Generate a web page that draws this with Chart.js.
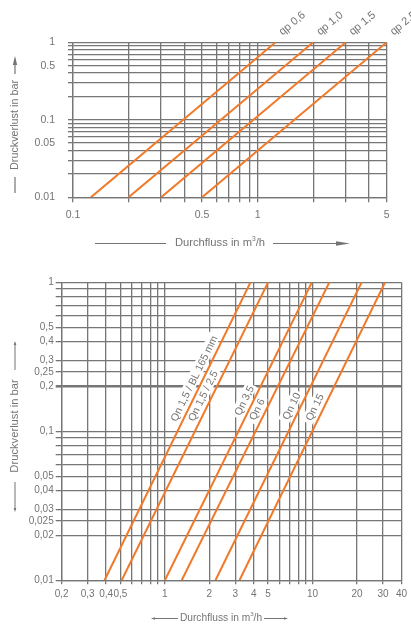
<!DOCTYPE html>
<html>
<head>
<meta charset="utf-8">
<script src="https://cdn.jsdelivr.net/npm/chart.js@4.4.1/dist/chart.umd.min.js"></script>
<style>
  html, body { margin: 0; padding: 0; background: #fff; }
  #wrap { position: relative; width: 411px; height: 624px; overflow: hidden; }
  canvas { position: absolute; left: 0; }
  #top { top: 0; }
  #bottom { top: 260px; }
</style>
</head>
<body>
<div id="wrap">
  <canvas id="top" width="411" height="260"></canvas>
  <canvas id="bottom" width="411" height="364"></canvas>
</div>
<script>
'use strict';

// upper diagram: qp meters
const topSeries = ['qp 0,6', 'qp 1,0', 'qp 1,5', 'qp 2,5'];
const topFlowLow = [0.125, 0.2, 0.3, 0.5];   // m3/h at 0.01 bar
const topFlowHigh = [1.25, 2.0, 3.0, 5.0];   // m3/h at 1 bar
const topPressure = [0.01, 1];
const topXTicks = [0.1, 0.5, 1, 5];
const topXLabels = ['0.1', '0.5', '1', '5'];
const topYTicks = [0.01, 0.05, 0.1, 0.5, 1];
const topYLabels = ['0.01', '0.05', '0.1', '0.5', '1'];

// lower diagram: Qn meters
const bottomSeries = ['Qn 1,5 / BL 165 mm', 'Qn 1,5 / 2,5', 'Qn 3,5', 'Qn 6', 'Qn 10', 'Qn 15'];
const bottomFlowLow = [0.39, 0.51, 1.0, 1.3, 2.2, 3.2];   // m3/h at 0.01 bar
const bottomFlowHigh = [3.8, 5.0, 9.9, 13, 21.5, 31];     // m3/h at 1 bar
const bottomPressure = [0.01, 1];
const bottomXTicks = [0.2, 0.3, 0.4, 0.5, 1, 2, 3, 4, 5, 10, 20, 30, 40];
const bottomXLabels = ['0,2', '0,3', '0,4', '0,5', '1', '2', '3', '4', '5', '10', '20', '30', '40'];
const bottomYTicks = [0.01, 0.02, 0.025, 0.03, 0.04, 0.05, 0.1, 0.2, 0.25, 0.3, 0.4, 0.5, 1];
const bottomYLabels = ['0,01', '0,02', '0,025', '0,03', '0,04', '0,05', '0,1', '0,2', '0,25', '0,3', '0,4', '0,5', '1'];

const ORANGE = '#f07a2a';
const GRID = '#767676';
const TEXT = '#747474';
const FONT = '"Liberation Sans", Arial, sans-serif';

const same = (a, b) => Math.abs(a - b) <= Math.abs(b) * 1e-6;

// 1..9 steps of every decade between min and max, plus the labelled ticks
function gridValues(min, max, ticks) {
    const out = [];
    for (let p = Math.floor(Math.log10(min)); p <= Math.ceil(Math.log10(max)); p++) {
        for (let m = 1; m < 10; m++) {
            const v = +(m * Math.pow(10, p)).toPrecision(6);
            if (v >= min - 1e-12 && v <= max + 1e-12) out.push(v);
        }
    }
    ticks.forEach(t => { if (!out.some(v => same(v, t))) out.push(t); });
    return out.sort((a, b) => a - b);
}

function logAxis(min, max, ticks, labels, o) {
    const grid = gridValues(min, max, ticks);
    return {
        type: 'logarithmic',
        min: min,
        max: max,
        afterBuildTicks: (axis) => { axis.ticks = grid.map(v => ({ value: v })); },
        afterFit: o.fit,
        ticks: {
            autoSkip: false,
            maxRotation: 0,
            minRotation: 0,
            padding: o.padding,
            color: TEXT,
            font: { family: FONT, size: o.fontSize },
            callback: (v) => {
                const i = ticks.findIndex(t => same(v, t));
                return i < 0 ? '' : labels[i];
            }
        },
        grid: {
            color: GRID,
            lineWidth: o.lineWidth || 1.3,
            tickLength: o.tickLength,
            tickColor: GRID
        },
        border: { display: true, color: GRID, width: 1.3 }
    };
}

function lineSets(names, low, high, pressure) {
    return names.map((n, i) => ({
        label: n,
        data: [{ x: low[i], y: pressure[0] }, { x: high[i], y: pressure[1] }],
        borderColor: ORANGE,
        borderWidth: 2,
        pointRadius: 0,
        showLine: true,
        fill: false
    }));
}

function flowTitle(ctx, cx, cy, size) {
    const a = 'Durchfluss in m', b = '3', c = '/h';
    ctx.font = size + 'px ' + FONT;
    const wa = ctx.measureText(a).width, wc = ctx.measureText(c).width;
    ctx.font = (size * 0.6) + 'px ' + FONT;
    const wb = ctx.measureText(b).width;
    let x = cx - (wa + wb + wc) / 2;
    ctx.textBaseline = 'middle';
    ctx.textAlign = 'left';
    ctx.font = size + 'px ' + FONT;
    ctx.fillText(a, x, cy);
    ctx.font = (size * 0.6) + 'px ' + FONT;
    ctx.fillText(b, x + wa, cy - size * 0.35);
    ctx.font = size + 'px ' + FONT;
    ctx.fillText(c, x + wa + wb, cy);
}

function seg(ctx, x1, y1, x2, y2) {
    ctx.beginPath();
    ctx.moveTo(x1, y1);
    ctx.lineTo(x2, y2);
    ctx.stroke();
}

function head(ctx, tx, ty, dx, dy, len, half) {
    // arrow tip at (tx,ty), pointing in direction (dx,dy)
    const bx = tx - dx * len, by = ty - dy * len;
    ctx.beginPath();
    ctx.moveTo(tx, ty);
    ctx.lineTo(bx - dy * half, by + dx * half);
    ctx.lineTo(bx + dy * half, by - dx * half);
    ctx.closePath();
    ctx.fill();
}

const topTitles = {
    id: 'topTitles',
    afterDraw(chart) {
        const ctx = chart.ctx;
        ctx.save();
        ctx.strokeStyle = TEXT;
        ctx.fillStyle = TEXT;
        ctx.lineWidth = 1.2;
        // x title
        seg(ctx, 95, 243.5, 166, 243.5);
        flowTitle(ctx, 220, 243, 11.2);
        seg(ctx, 273, 243.5, 338, 243.5);
        head(ctx, 350, 243.5, 1, 0, 14, 2.2);
        // y title
        head(ctx, 15, 56, 0, -1, 9, 2.2);
        seg(ctx, 15, 64, 15, 74);
        seg(ctx, 15, 177, 15, 193);
        ctx.translate(15, 125);
        ctx.rotate(-Math.PI / 2);
        ctx.font = '10.8px ' + FONT;
        ctx.textAlign = 'center';
        ctx.textBaseline = 'middle';
        ctx.fillText('Druckverlust in bar', 0, 0);
        ctx.restore();
    },
    afterDatasetsDraw(chart) {
        const ctx = chart.ctx;
        ctx.save();
        ctx.fillStyle = TEXT;
        ctx.font = '11px ' + FONT;
        ctx.textAlign = 'left';
        ctx.textBaseline = 'middle';
        chart.data.datasets.forEach((ds, i) => {
            const pts = chart.getDatasetMeta(i).data;
            const p0 = pts[0], p1 = pts[1];
            const ang = Math.atan2(p1.y - p0.y, p1.x - p0.x);
            ctx.save();
            ctx.translate(p1.x + 5, p1.y - 9);
            ctx.rotate(ang);
            ctx.fillText(ds.label, 0, 0);
            ctx.restore();
        });
        ctx.restore();
    }
};

// pressure at which each curve label ends (label sits left of its line)
const bottomLabelEnd = [0.41, 0.239, 0.189, 0.155, 0.17, 0.167];

function bottomLabelFrames(chart, cb) {
    const ys = chart.scales.y;
    chart.data.datasets.forEach((ds, i) => {
        const pts = chart.getDatasetMeta(i).data;
        const p0 = pts[0], p1 = pts[1];
        const py = ys.getPixelForValue(bottomLabelEnd[i]);
        const t = (py - p0.y) / (p1.y - p0.y);
        const px = p0.x + t * (p1.x - p0.x);
        const ang = Math.atan2(p1.y - p0.y, p1.x - p0.x);
        cb(ds.label, px, py, ang);
    });
}

const LABEL_FONT = '10.5px ' + FONT;

const bottomTitles = {
    id: 'bottomTitles',
    beforeDatasetsDraw(chart) {
        const ctx = chart.ctx;
        ctx.save();
        ctx.font = LABEL_FONT;
        ctx.fillStyle = '#fff';
        bottomLabelFrames(chart, (txt, px, py, ang) => {
            const w = ctx.measureText(txt).width;
            ctx.save();
            ctx.translate(px, py);
            ctx.rotate(ang);
            ctx.fillRect(-w - 3, -15, w + 5, 12);
            ctx.restore();
        });
        ctx.restore();
    },
    afterDatasetsDraw(chart) {
        const ctx = chart.ctx;
        ctx.save();
        ctx.font = LABEL_FONT;
        ctx.fillStyle = TEXT;
        ctx.textAlign = 'right';
        ctx.textBaseline = 'alphabetic';
        bottomLabelFrames(chart, (txt, px, py, ang) => {
            ctx.save();
            ctx.translate(px, py);
            ctx.rotate(ang);
            ctx.fillText(txt, 0, -5);
            ctx.restore();
        });
        ctx.restore();
    },
    afterDraw(chart) {
        const ctx = chart.ctx;
        ctx.save();
        ctx.strokeStyle = TEXT;
        ctx.fillStyle = TEXT;
        ctx.lineWidth = 1;
        // x title
        seg(ctx, 153, 358.5, 178, 358.5);
        head(ctx, 151, 358.5, -1, 0, 4, 1.3);
        flowTitle(ctx, 221, 358, 10.2);
        seg(ctx, 264, 358.5, 286, 358.5);
        head(ctx, 288, 358.5, 1, 0, 4, 1.3);
        // y title
        seg(ctx, 15, 83, 15, 110);
        head(ctx, 15, 81, 0, -1, 4, 1.3);
        seg(ctx, 15, 222, 15, 250);
        head(ctx, 15, 252, 0, 1, 4, 1.3);
        ctx.translate(15, 166);
        ctx.rotate(-Math.PI / 2);
        ctx.font = '11.2px ' + FONT;
        ctx.textAlign = 'center';
        ctx.textBaseline = 'middle';
        ctx.fillText('Druckverlust in bar', 0, 0);
        ctx.restore();
    }
};

const baseOptions = {
    responsive: false,
    animation: false,
    events: [],
    plugins: { legend: { display: false }, tooltip: { enabled: false } }
};

new Chart(document.getElementById('top'), {
    type: 'scatter',
    data: { datasets: lineSets(topSeries, topFlowLow, topFlowHigh, topPressure) },
    options: Object.assign({}, baseOptions, {
        layout: { padding: { left: 0, top: 42.3, right: 24.3, bottom: 0 } },
        scales: {
            x: logAxis(0.1, 5, topXTicks, topXLabels, {
                padding: 7, tickLength: 5, fontSize: 10.5, fit: (s) => { s.height = 62.7; }
            }),
            y: logAxis(0.01, 1, topYTicks, topYLabels, {
                padding: 13, tickLength: 5, fontSize: 10.5, fit: (s) => { s.width = 73; }
            })
        }
    }),
    plugins: [topTitles]
});

new Chart(document.getElementById('bottom'), {
    type: 'scatter',
    data: { datasets: lineSets(bottomSeries, bottomFlowLow, bottomFlowHigh, bottomPressure) },
    options: Object.assign({}, baseOptions, {
        layout: { padding: { left: 0, top: 22.3, right: 6.7, bottom: 0 } },
        scales: {
            x: logAxis(0.2, 40, bottomXTicks, bottomXLabels, {
                padding: 4, tickLength: 4, fontSize: 10, fit: (s) => { s.height = 43.7; }
            }),
            y: logAxis(0.01, 1, bottomYTicks, bottomYLabels, {
                padding: 2, tickLength: 6, fontSize: 10, fit: (s) => { s.width = 61.7; },
                lineWidth: (c) => (c.tick && same(c.tick.value, 0.2)) ? 2.6 : 1.3
            })
        }
    }),
    plugins: [bottomTitles]
});
</script>
</body>
</html>
